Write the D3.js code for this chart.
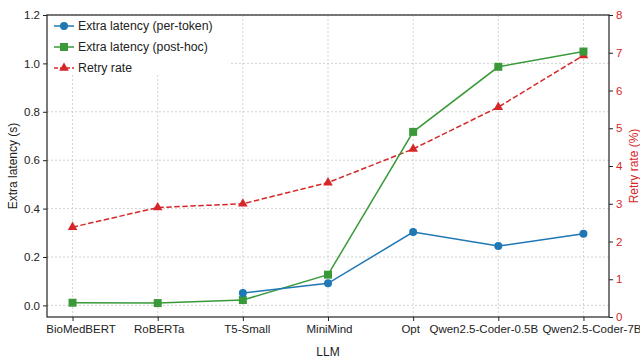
<!DOCTYPE html>
<html>
<head>
<meta charset="utf-8">
<script src="https://cdn.jsdelivr.net/npm/d3@7"></script>
<style>
  body { margin: 0; background: #fff; }
  svg { font-family: "Liberation Sans", Arial, sans-serif; }
</style>
</head>
<body>
<div id="chart"></div>
<script>
// donnees
var models = ["BioMedBERT", "RoBERTa", "T5-Small", "MiniMind", "Opt", "Qwen2.5-Coder-0.5B", "Qwen2.5-Coder-7B"];
var perToken = [null, null, 0.051, 0.091, 0.303, 0.245, 0.296];
var postHoc = [0.011, 0.0095, 0.022, 0.127, 0.717, 0.986, 1.049];
var retryRate = [2.38, 2.90, 3.00, 3.56, 4.45, 5.56, 6.93];
var leftTicks = [0.0, 0.2, 0.4, 0.6, 0.8, 1.0, 1.2];
var rightTicks = [0, 1, 2, 3, 4, 5, 6, 7, 8];

// decalage horizontal des etiquettes (comme dans l'original)
var labelShift = [8, 1, 4, 1, -3, -15, 8];

var W = 640, H = 360;
var margin = { top: 15, right: 31, bottom: 43, left: 47 };
var width = W - margin.left - margin.right,
    height = H - margin.top - margin.bottom;

var blue = "#1f77b4", green = "#3a9a3a", red = "#d62728";

var svg = d3.select("#chart").append("svg")
    .attr("width", W).attr("height", H);
var g = svg.append("g").attr("transform", "translate(" + margin.left + "," + margin.top + ")");

var x = d3.scaleLinear().domain([-0.3, models.length - 1 + 0.3]).range([0, width]);
var y = d3.scaleLinear().domain([-0.048, 1.2]).range([height, 0]);
var y2 = d3.scaleLinear().domain([0, 8]).range([height, 0]);

// grille
g.selectAll(".gx").data(models).enter().append("line")
    .attr("x1", function(d, i) { return x(i); }).attr("x2", function(d, i) { return x(i); })
    .attr("y1", 0).attr("y2", height)
    .attr("stroke", "#c8c8c8").attr("stroke-width", 0.8).attr("stroke-dasharray", "2,2");
g.selectAll(".gy").data(leftTicks).enter().append("line")
    .attr("x1", 0).attr("x2", width)
    .attr("y1", function(d) { return y(d); }).attr("y2", function(d) { return y(d); })
    .attr("stroke", "#c8c8c8").attr("stroke-width", 0.8).attr("stroke-dasharray", "2,2");

// axes
var xAxis = g.append("g").attr("transform", "translate(0," + height + ")")
    .call(d3.axisBottom(x).tickValues(d3.range(models.length)).tickFormat(function(i) { return models[i]; }).tickSize(4).tickPadding(4));
var yAxis = g.append("g")
    .call(d3.axisLeft(y).tickValues(leftTicks).tickFormat(d3.format(".1f")).tickSize(4).tickPadding(3));
var yAxis2 = g.append("g").attr("transform", "translate(" + width + ",0)")
    .call(d3.axisRight(y2).tickValues(rightTicks).tickSize(4).tickPadding(3));

[xAxis, yAxis, yAxis2].forEach(function(a) {
    a.select(".domain").remove();
    a.selectAll("line").attr("stroke", "#222");
    a.selectAll("text").attr("font-size", "11.5px").attr("fill", "#222").attr("font-family", "Liberation Sans, Arial, sans-serif");
});
yAxis2.selectAll("text").attr("fill", red);
xAxis.selectAll("text").attr("dx", function(d) { return labelShift[d]; });

// cadre
g.append("rect").attr("width", width).attr("height", height)
    .attr("fill", "none").attr("stroke", "#222").attr("stroke-width", 1.2);

// series
var line = function(sc) {
    return d3.line().defined(function(d) { return d != null; })
        .x(function(d, i) { return x(i); }).y(function(d) { return sc(d); });
};

g.append("path").datum(retryRate).attr("d", line(y2))
    .attr("fill", "none").attr("stroke", red).attr("stroke-width", 1.5).attr("stroke-dasharray", "5.5,2.5");
g.append("path").datum(postHoc).attr("d", line(y))
    .attr("fill", "none").attr("stroke", green).attr("stroke-width", 1.5);
g.append("path").datum(perToken).attr("d", line(y))
    .attr("fill", "none").attr("stroke", blue).attr("stroke-width", 1.5);

var tri = d3.symbol().type(d3.symbolTriangle).size(40);
g.selectAll(".tri").data(retryRate).enter().append("path")
    .attr("d", tri)
    .attr("transform", function(d, i) { return "translate(" + x(i) + "," + y2(d) + ")"; })
    .attr("fill", red);
g.selectAll(".sq").data(postHoc).enter().append("rect")
    .attr("x", function(d, i) { return x(i) - 4; }).attr("y", function(d) { return y(d) - 4; })
    .attr("width", 8).attr("height", 8).attr("fill", green);
g.selectAll(".ci").data(perToken.map(function(v, i) { return { v: v, i: i }; }).filter(function(d) { return d.v != null; }))
    .enter().append("circle")
    .attr("cx", function(d) { return x(d.i); }).attr("cy", function(d) { return y(d.v); })
    .attr("r", 4).attr("fill", blue);

// libelles des axes
svg.append("text").attr("x", margin.left + width / 2).attr("y", 356)
    .attr("text-anchor", "middle").attr("font-size", "12px").attr("fill", "#222").text("LLM");
svg.append("text").attr("transform", "translate(17," + (margin.top + height / 2) + ") rotate(-90)")
    .attr("text-anchor", "middle").attr("font-size", "12px").attr("fill", "#222").text("Extra latency (s)");
svg.append("text").attr("transform", "translate(638," + (margin.top + height / 2) + ") rotate(-90)")
    .attr("text-anchor", "middle").attr("font-size", "12px").attr("fill", red).text("Retry rate (%)");

// legende
var legendItems = [
    { label: "Extra latency (per-token)", color: blue, mark: "circle", dash: null },
    { label: "Extra latency (post-hoc)", color: green, mark: "square", dash: null },
    { label: "Retry rate", color: red, mark: "triangle", dash: "4,2" }
];
var lg = g.append("g").attr("transform", "translate(1,1)");
lg.append("rect").attr("width", 181).attr("height", 57).attr("fill", "#fff").attr("opacity", 0.9);
var item = lg.selectAll(".legend").data(legendItems).enter().append("g")
    .attr("transform", function(d, i) { return "translate(0," + (10 + i * 21) + ")"; });
item.append("line").attr("x1", 6).attr("x2", 26).attr("y1", 0).attr("y2", 0)
    .attr("stroke", function(d) { return d.color; }).attr("stroke-width", 1.5)
    .attr("stroke-dasharray", function(d) { return d.dash; });
item.each(function(d) {
    var s = d3.select(this);
    if (d.mark == "circle") s.append("circle").attr("cx", 16).attr("r", 4).attr("fill", d.color);
    else if (d.mark == "square") s.append("rect").attr("x", 12).attr("y", -4).attr("width", 8).attr("height", 8).attr("fill", d.color);
    else s.append("path").attr("d", tri).attr("transform", "translate(16,0)").attr("fill", d.color);
});
item.append("text").attr("x", 30).attr("y", 0).attr("dy", "0.35em")
    .attr("font-size", "12.3px").attr("fill", "#222").text(function(d) { return d.label; });
</script>
</body>
</html>
